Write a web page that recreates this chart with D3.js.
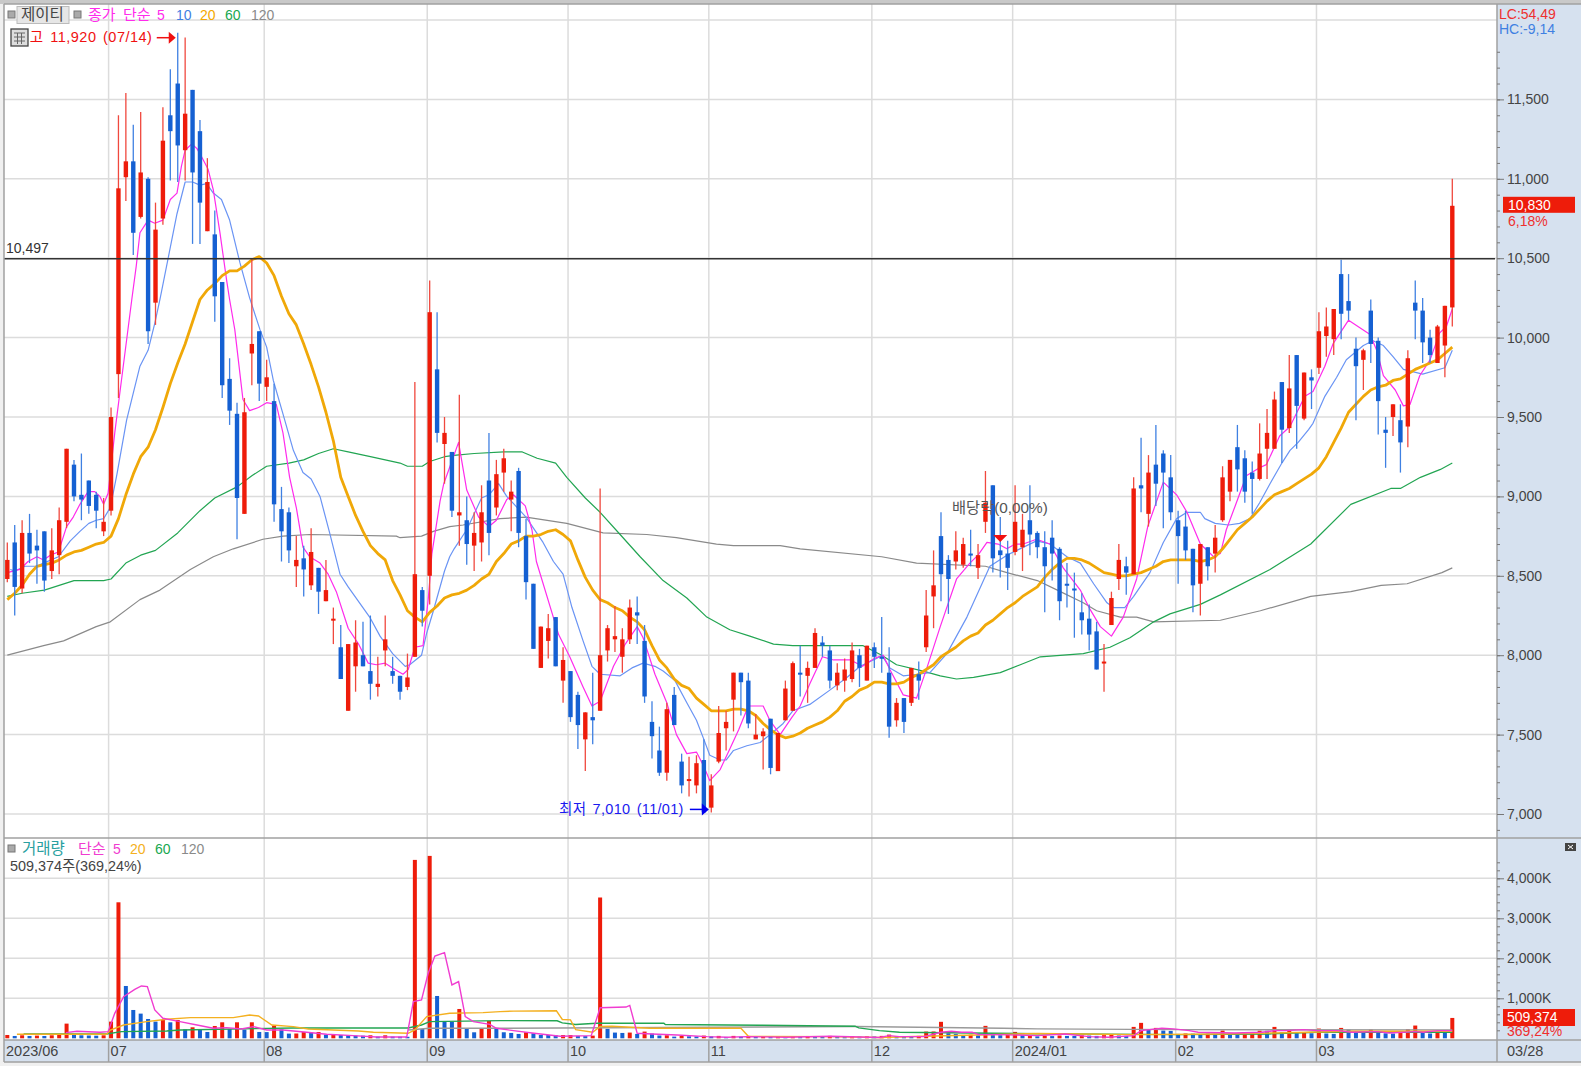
<!DOCTYPE html>
<html>
<head>
<meta charset="utf-8">
<script src="https://cdnjs.cloudflare.com/ajax/libs/d3/7.8.5/d3.min.js"></script>
<style>
  html, body { margin: 0; padding: 0; background: #f0f0f0; overflow: hidden; }
  text { font-family: "Liberation Sans", "Noto Sans CJK KR", sans-serif; }
</style>
</head>
<body>
<div id="graph"></div>
<script>
// daily candles, 2023/06 - 2024/03/28
var open = [
  8480,8710,8420,8770,8690,8780,8530,8630,8840,9200,
  9010,9100,9010,8780,8910,9770,11010,11110,10760,11000,
  10220,10750,11400,11600,11180,11560,11300,10670,10650,10350,
  9740,9520,8890,9900,10040,9690,9600,8920,8900,8560,
  8610,8440,8550,8340,8220,8050,7650,7930,8000,7900,
  7800,8030,7900,7870,7800,7990,8410,8500,9800,9330,
  9280,8880,8850,8690,8710,9100,8930,9150,8980,9160,
  8750,8450,7920,8090,8240,7840,7900,7750,7470,7610,
  7650,8030,8100,7990,8100,8270,8090,7580,7400,7260,
  7750,7330,7210,7180,7340,7040,7330,7540,7720,7890,
  7840,7470,7490,7600,7270,7590,7650,7890,7870,7920,
  8080,8030,7810,7840,7850,8000,7840,8050,7990,7890,
  7590,7730,7700,7880,8050,8370,8750,8600,8590,8570,
  8640,8550,8840,9070,8660,8640,8650,8680,8850,8770,
  8680,8740,8670,8450,8420,8270,8230,8150,7950,8190,
  8480,8560,8510,9070,8890,9200,9270,9120,8850,8810,
  8670,8450,8680,8640,8850,9030,9310,9240,9150,9110,
  9300,9300,9720,9430,9890,9490,9750,9810,10010,9990,
  10400,10230,9930,9860,10170,9980,9420,9500,9480,9440,
  10220,10170,10000,9840,9950,10190];
var close = [
  8600,8430,8770,8640,8660,8470,8660,8850,9300,9000,
  8980,8940,8910,8840,9500,10940,11110,10660,11040,10040,
  10680,11240,11300,11210,11410,11040,10850,10980,10260,9700,
  9540,8990,9530,9960,9710,9750,8950,8780,8660,8600,
  8540,8650,8400,8410,8230,7850,8070,8080,7930,7820,
  7820,8100,7870,7770,7860,8510,8280,10160,9400,9400,
  8910,8900,8700,8770,8900,8770,9140,9240,9030,8770,
  8460,8040,8180,8170,7930,7970,7610,7560,7640,7590,
  8000,8170,8120,8100,8300,8250,7740,7490,7260,7660,
  7560,7180,7220,7320,7010,7180,7510,7580,7890,7830,
  7570,7500,7520,7290,7510,7790,7950,7880,7920,8140,
  8060,7840,7890,7910,8030,7920,8060,7990,7980,7550,
  7700,7580,7920,7840,8250,8440,8510,8480,8660,8700,
  8630,8630,8960,8610,8630,8550,8840,8790,8760,8680,
  8560,8640,8340,8440,8410,8220,8130,7910,7960,8360,
  8600,8520,9050,9050,9150,9080,9150,8900,8750,8660,
  8440,8700,8560,8740,9120,9230,9170,9030,9110,9270,
  9400,9610,9420,9680,9570,9780,9730,10040,10070,10180,
  10150,10170,9820,9920,9960,9600,9400,9580,9340,9870,
  10170,9970,9890,10070,10200,10830];
var high = [
  8710,8820,8850,8890,8790,8780,8800,8930,9300,9230,
  9270,9100,9030,8990,9560,11400,11540,11340,11420,11010,
  10850,11450,11690,11920,11890,11560,11370,11130,10800,10350,
  9870,9590,9620,10500,10040,9860,9710,9060,8930,8750,
  8690,8800,8550,8600,8300,8190,8070,8220,8210,8250,
  7990,8250,7990,7870,8010,9720,8430,10360,10160,9500,
  9280,9640,9000,8900,9070,9400,9230,9300,9100,9180,
  8860,8450,8180,8260,8240,8050,7900,7770,7640,7890,
  9050,8190,8310,8170,8350,8370,8190,7710,7550,7700,
  7800,7380,7360,7370,7470,7250,7680,7650,7890,7890,
  7890,7630,7540,7600,7510,7840,7960,8060,7960,8170,
  8120,8060,7950,7980,8080,8040,8060,8080,8240,8050,
  7730,7730,7920,7960,8410,8660,8900,8630,8780,8740,
  8790,8700,9160,9070,8870,8720,9070,8890,9070,8780,
  8780,8850,8680,8580,8520,8390,8320,8210,8070,8400,
  8700,8620,9120,9370,9260,9450,9290,9260,8910,8910,
  8670,8700,8680,8820,9190,9230,9450,9290,9220,9460,
  9550,9660,9720,9890,9890,9780,9800,10160,10190,10180,
  10490,10400,10000,9930,10240,10000,9500,9580,9580,9920,
  10360,10250,10050,10080,10200,11000];
var low = [
  8460,8250,8390,8580,8450,8400,8480,8510,8800,8970,
  8850,8890,8800,8750,8880,9620,10860,10520,10750,9960,
  10080,10710,10990,10980,10990,10590,10590,10670,10100,9620,
  9450,8730,8890,9700,9600,9600,8840,8590,8580,8430,
  8370,8410,8260,8340,8070,7850,7650,7770,7930,7720,
  7740,7930,7820,7720,7780,7990,8180,8320,9340,9080,
  8870,8690,8570,8530,8590,8630,8880,9030,8780,8680,
  8350,8040,7920,7980,7930,7700,7580,7410,7270,7440,
  7650,7960,8020,7890,8070,8070,7700,7350,7240,7210,
  7560,7130,7110,7130,7010,7010,7320,7400,7520,7620,
  7540,7470,7280,7250,7270,7590,7650,7740,7700,7920,
  7990,7790,7780,7770,7830,7800,7840,7920,7890,7480,
  7550,7510,7680,7720,8020,8170,8340,8260,8540,8550,
  8560,8480,8770,8520,8490,8410,8630,8530,8630,8610,
  8270,8470,8220,8300,8110,8130,8030,7910,7770,8190,
  8410,8380,8510,8900,8810,8940,8800,8850,8450,8600,
  8270,8250,8470,8520,8840,8970,9030,8960,8890,9100,
  9110,9300,9210,9400,9300,9480,9550,9770,9880,9890,
  9990,10110,9480,9670,9840,9390,9180,9380,9150,9310,
  9990,9840,9840,9840,9750,10070];

// moving averages (position in candle units, then value)
var ma5Pos = [0,1.7,2.8,4,4.9,5.8,6.9,8,8.9,9.8,10.9,11.8,12.5,13,13.6,14.5,15.4,16.8,17.4,17.9,19,19.9,21,22,22.9,23.5,24,24.9,25.6,26.2,27.1,27.8,28.7,29.6,30,30.7,31.8,32.7,33.9,35,36.3,37.2,38.1,39,39.9,40.8,42.2,43.3,44.4,46,47.4,48.7,49.8,51,52.3,53.4,54.1,55,56.1,56.8,57.3,58.4,58.9,60.9,62,63.6,65,66,67.4,68.3,69.9,70.8,71.4,74.4,75.9,77.7,78.9,80,81.8,83.4,85,85.8,87.4,89,90.3,91.7,93,94,94.8,96.2,97.5,98.7,100,102,102.9,104.3,105.9,107,108.3,110,111.5,113.8,115.4,117,118.2,119.1,120.9,122.7,124.1,125.9,128.1,129.9,131,132.2,133.7,134.9,136,137.1,138.9,140.7,142.5,144.8,146.1,147.5,149,150.6,152.4,153.9,156,157.8,159.2,161,162.8,163.7,164.5,165.7,167.2,169,169.9,171.7,173.1,175.1,176.2,177.8,178.9,181,183.9,184.8,185.7,187.3,188.4,189.3,190.6,192,193.3,194.2,195];
var ma5 = [8520,8540,8590,8620,8600,8630,8650,8810,8870,8950,9030,9030,9000,8950,9020,9400,9730,10240,10450,10660,10740,10720,10740,10870,10910,11080,11180,11220,11190,11140,11060,10930,10660,10360,10240,10050,9610,9540,9560,9590,9580,9400,9120,8930,8680,8620,8580,8510,8400,8170,8070,7950,7940,7950,7910,7880,7910,8050,8060,8350,8640,8970,9080,9340,9040,8870,8810,8850,8980,9010,8940,8790,8590,8130,7990,7800,7680,7710,7930,8070,8180,8110,7880,7700,7500,7380,7390,7300,7210,7280,7410,7530,7680,7680,7590,7500,7610,7680,7820,7990,7970,7970,7930,7980,8000,7910,7750,7730,7920,8180,8480,8580,8630,8710,8700,8670,8700,8700,8730,8700,8550,8410,8290,8180,8120,8240,8480,8810,9090,9010,8900,8700,8620,8640,8790,8940,9130,9180,9200,9380,9440,9630,9660,9820,9960,10110,10020,9920,9760,9670,9570,9580,9760,9860,10030,10070,10180];
var ma10Pos = [0.4,1,2.4,3.9,4.9,6.9,8.5,9.8,11,12,13,13.9,14.8,16.1,17.9,19,19.9,20.6,22.9,24,25,26,26.9,27.8,28.9,30,31.4,32.7,34.1,35,35.9,37.2,38.6,39.9,41,42.2,43.5,44.9,46,48.9,50.3,52,53.7,54.3,55.9,56.6,57.5,59,59.7,60.3,62,64,65,66.3,67.4,69,70,72.3,73.7,75,76.2,77.7,78.9,80,82.7,84.3,85.8,87.4,88.5,90.1,91.7,93,94,94.8,96.2,97,98,99.8,101.6,103.2,104.7,106,108.3,111,113.3,115.1,117.3,118,119.1,120.9,122.9,124.5,126.8,129.5,132.6,134.9,138.9,140.7,143,144.8,146.6,148.4,149.3,150.8,152,154.2,156,157.8,159.2,161,161.6,163,164.8,166.3,167.7,169,170.4,172,173.1,174.2,175.6,176.2,177.8,179.4,180.7,183,184.3,185.7,187,188.4,191,194,195];
var ma10 = [8540,8530,8560,8560,8580,8620,8720,8780,8830,8850,8860,8930,9140,9480,9820,9920,10090,10240,10780,10980,10980,10960,10970,10910,10870,10740,10470,10250,10050,9940,9730,9520,9290,9150,9110,9000,8770,8510,8430,8240,8120,8010,7930,7940,8000,8140,8280,8530,8620,8670,8790,8990,9010,9080,9000,8920,8870,8710,8590,8510,8300,8090,7930,7880,7870,7920,7950,7930,7900,7840,7700,7590,7470,7370,7340,7340,7400,7430,7450,7510,7570,7650,7690,7780,7860,7930,7980,8000,7920,7870,7880,7890,8010,8240,8560,8630,8720,8700,8620,8580,8450,8330,8300,8300,8370,8520,8710,8860,8900,8900,8860,8830,8820,8830,8860,8960,9080,9210,9290,9340,9420,9460,9630,9750,9860,9950,9980,9950,9880,9800,9770,9810,9920];
var ma20 = [
  8350,8390,8440,8510,8560,8570,8580,8600,8630,8650,
  8660,8680,8700,8710,8750,8860,9010,9140,9250,9310,
  9420,9560,9710,9840,9960,10100,10240,10300,10340,10390,
  10420,10420,10450,10490,10510,10470,10390,10260,10150,10080,
  9960,9830,9690,9530,9350,9120,9000,8880,8780,8690,
  8640,8600,8470,8380,8280,8240,8210,8270,8310,8360,
  8380,8390,8410,8440,8480,8510,8590,8640,8700,8720,
  8750,8750,8760,8780,8790,8760,8720,8600,8490,8410,
  8350,8330,8300,8280,8240,8210,8160,8060,7970,7920,
  7850,7810,7790,7730,7690,7650,7650,7650,7660,7660,
  7650,7620,7570,7530,7500,7480,7490,7510,7540,7560,
  7580,7610,7650,7710,7740,7780,7800,7830,7830,7820,
  7820,7830,7860,7880,7910,7940,7990,8020,8050,8090,
  8120,8140,8190,8220,8260,8300,8330,8370,8400,8430,
  8490,8540,8580,8610,8610,8600,8580,8550,8520,8510,
  8500,8500,8510,8520,8540,8560,8590,8600,8600,8600,
  8600,8590,8600,8620,8670,8730,8790,8830,8870,8920,
  8970,9010,9030,9050,9080,9110,9140,9180,9250,9340,
  9430,9530,9580,9630,9670,9690,9700,9730,9740,9770,
  9800,9820,9840,9860,9900,9940];
var ma60Pos = [0,2,5,7,9,13,14,16,18,20,23,26,28,31,33,35,38,40,42,44,46,49,53,54,56,57,59,60.6,63,67,69.5,71.5,74,75.5,78,80,82.7,85.4,88.5,91.7,94.4,97.5,100.2,103.4,106,112.4,115.5,118,120,123.6,125.9,128.1,130.4,134,136.7,139.4,145.2,148.8,151.5,154.7,156.9,161,163.7,170.4,175.9,181.3,186.7,188,190.7,193.4,195];
var ma60 = [8370,8390,8410,8440,8470,8470,8480,8580,8630,8660,8770,8910,8990,9060,9130,9190,9210,9230,9270,9300,9280,9250,9210,9190,9190,9220,9250,9260,9270,9280,9280,9240,9210,9120,8990,8900,8760,8620,8470,8360,8240,8160,8120,8070,8060,8060,8060,8000,7940,7900,7870,7850,7860,7890,7940,7990,8010,8050,8110,8210,8260,8320,8380,8540,8700,8950,9050,9050,9120,9170,9210];
var ma120Pos = [0,4.9,7.6,12,13.9,17.9,20.6,24.7,27.8,30.5,34.5,37.2,40.8,52.5,53,55.9,57.5,59.7,61.5,66.5,70,75.5,80.4,86.3,90.3,95.7,98,104.3,107,118,122.7,132,134.9,139,141.7,145.2,147,150.2,152.4,154.7,163.7,169.1,175.9,181.3,185.4,188.9,193.6,195];
var ma120 = [8000,8060,8090,8180,8210,8350,8410,8540,8620,8670,8730,8750,8760,8750,8740,8750,8780,8810,8820,8860,8870,8830,8770,8760,8740,8700,8690,8690,8670,8620,8580,8560,8520,8470,8410,8330,8280,8240,8240,8210,8220,8280,8370,8400,8440,8450,8520,8550];

// volume in thousands of shares
var volume = [
  83,58,75,58,67,58,75,83,367,83,
  75,70,65,75,417,3400,1308,708,617,483,
  417,458,400,458,225,275,225,158,308,400,
  233,400,217,400,158,155,317,225,117,120,
  158,142,158,92,95,83,80,67,65,75,
  42,75,42,40,38,4460,233,4560,1058,417,
  410,733,250,150,250,433,250,151,134,109,
  151,126,84,82,80,82,82,60,55,67,
  3520,235,143,134,143,109,168,118,70,76,
  42,60,50,48,67,50,60,34,60,42,
  60,42,55,50,55,45,52,45,58,50,
  48,60,48,40,52,44,50,46,60,92,
  50,46,44,60,168,170,412,126,109,84,
  90,75,311,80,78,85,160,78,80,50,
  65,55,70,60,58,75,68,60,78,85,
  70,60,285,386,210,260,193,185,110,120,
  115,105,115,100,193,95,90,100,110,190,
  188,285,150,190,130,140,125,243,120,110,
  260,218,160,140,218,150,125,118,135,226,
  319,145,120,140,138,509];
var volMa5Pos = [7.9,9.4,12.5,13.6,14.5,15.7,17.2,18.1,18.9,19.9,21,23.3,25.6,27.8,29.6,31.6,33.2,35,37.2,40.4,43.1,46.7,49.8,53.9,54.8,55.9,56.8,57.7,59,60,60.9,61.8,62.9,65.1,66,68.3,71.1,74.6,78.8,80,83.5,84,85,87,90.4,94.4,97.2,99.7,105.1,111.1,117.7,119,120.4,123.7,126,127.4,128.8,130.2,131.1,133.9,139,142.8,146,148.6,152,153,155.8,157.4,159.5,160.7,165.6,169.3,171.1,172.5,174.9,176.7,179.5,181.4,184.9,186.5,190,191.1,193,195];
var volMa5 = [142,175,150,167,625,1040,1225,1308,1291,708,500,417,333,250,267,233,292,208,208,150,100,67,33,33,917,958,1625,2058,2142,1333,1417,542,417,350,250,193,126,50,67,764,781,823,126,109,84,42,25,42,25,50,20,67,42,42,151,176,151,151,92,92,67,109,42,25,67,193,252,235,193,151,134,151,193,193,218,193,193,151,168,134,168,151,193,193];
var volMa20Pos = [1.3,13.4,13.9,15.7,18.8,21.5,24.7,30.5,32.7,33.9,35.7,38.6,40.6,47.4,49.4,54.1,55,56.6,59.7,64.2,66.5,68.3,74.1,74.9,76,76.7,79,80,81.6,86.7,99,100,111.1,117.7,123.7,139,144.6,152,164.2,171.1,181.4,195];
var volMa20 = [100,100,208,333,417,475,517,517,583,558,333,292,233,183,150,125,208,542,625,642,667,680,689,470,462,218,151,294,302,252,252,50,42,20,50,120,109,92,109,134,176,176];
var volMa60Pos = [2.2,13.4,15.4,21.5,23.3,38.6,54.1,55.9,57,66.5,74.2,74.9,76.7,79.5,88.6,88.8,101.6,114.4,114.9,117.7,120.4,139,158.1,170.2,176.7,195];
var volMa60 = [108,108,167,183,208,258,258,333,417,442,437,386,344,378,378,344,328,302,260,193,151,115,92,109,151,151];
var volMa120Pos = [54.1,57,66.5,114.4,134.4,139,158.1,195];
var volMa120 = [208,250,250,294,252,235,218,210];

// ticks and labels
var priceGrid = [7000,7500,8000,8500,9000,9500,10000,10500,11000,11500,12000];
var priceTicks = [7000,7500,8000,8500,9000,9500,10000,10500,11000,11500];
var volTicks = [1000,2000,3000,4000];
var monthStart = [14,35,57,76,95,117,136,158,177];
var monthLabels = ["07","08","09","10","11","12","2024/01","02","03"];
var firstDate = "2023/06";
var lastDate = "03/28";
var prevHigh = 10497;
var maxPrice = 11920, maxIndex = 23;
var minPrice = 7010, minIndex = 94;
var exDivIndex = 134;
var lastPrice = 10830, lastVol = 509.374;

var width = 1581, height = 1066;
var plotLeft = 4, plotRight = 1497;
var priceBottom = 838, volBottom = 1040, dateBottom = 1062;

var COL_UP = '#ee1c0a', COL_DOWN = '#1560d2';
var WICK_UP = '#f0483e', WICK_DOWN = '#3f80e2';
var AXIS_BG = '#d6e1ef', TEXT = '#444';

var svg = d3.select('#graph').append('svg')
  .attr('width', width).attr('height', height)
  .style('display', 'block');

var xs = d3.scaleLinear().domain([0, 195]).range([7.3, 1452.3]);
var yPrice = d3.scaleLinear().domain([7000, 12000]).range([814, 20]);
var yVol = d3.scaleLinear().domain([0, 4000]).range([1038.3, 878.3]);

// background
svg.append('rect').attr('width', width).attr('height', height).attr('fill', '#f0f0f0');
svg.append('rect').attr('width', width).attr('height', 4).attr('fill', '#c9c9c9');
svg.append('rect').attr('x', plotLeft).attr('y', 4).attr('width', plotRight - plotLeft).attr('height', volBottom - 4).attr('fill', '#fff');
svg.append('rect').attr('x', plotRight).attr('y', 4).attr('width', width - plotRight).attr('height', dateBottom - 4).attr('fill', AXIS_BG);
svg.append('rect').attr('x', plotLeft).attr('y', volBottom).attr('width', width - plotLeft).attr('height', dateBottom - volBottom).attr('fill', AXIS_BG);

// grid
var grid = svg.append('g').attr('stroke', '#dcdcdc').attr('stroke-width', 1.5);
grid.selectAll('.hp').data(priceGrid).enter().append('line')
  .attr('x1', plotLeft).attr('x2', plotRight)
  .attr('y1', function(d) { return yPrice(d); }).attr('y2', function(d) { return yPrice(d); });
grid.selectAll('.hv').data(volTicks).enter().append('line')
  .attr('x1', plotLeft).attr('x2', plotRight)
  .attr('y1', function(d) { return yVol(d); }).attr('y2', function(d) { return yVol(d); });
grid.selectAll('.vm').data(monthStart).enter().append('line')
  .attr('x1', function(d) { return xs(d - 0.33); }).attr('x2', function(d) { return xs(d - 0.33); })
  .attr('y1', 4).attr('y2', volBottom);

// moving average lines of the price panel
var lineAt = function(xv, yv, yScale) {
  return d3.line()
    .x(function(d) { return xs(d); })
    .y(function(d, i) { return yScale(yv[i]); })(xv);
};
var maLines = [
  [ma120Pos, ma120, '#8a8a8a', 1.2],
  [ma60Pos, ma60, '#22a552', 1.2],
  [ma10Pos, ma10, '#6a94f4', 1.2],
  [ma5Pos, ma5, '#ff2bec', 1.2],
  [d3.range(ma20.length), ma20, '#f0a808', 2.8]
];
svg.append('g').selectAll('path').data(maLines).enter().append('path')
  .attr('d', function(d) { return lineAt(d[0], d[1], yPrice); })
  .attr('fill', 'none')
  .attr('stroke', function(d) { return d[2]; })
  .attr('stroke-width', function(d) { return d[3]; })
  .attr('stroke-linejoin', 'round');

// candles
var idx = d3.range(open.length);
var candles = svg.append('g');
candles.selectAll('line').data(idx).enter().append('line')
  .attr('x1', function(i) { return xs(i); }).attr('x2', function(i) { return xs(i); })
  .attr('y1', function(i) { return yPrice(high[i]); }).attr('y2', function(i) { return yPrice(low[i]); })
  .attr('stroke', function(i) { return close[i] >= open[i] ? WICK_UP : WICK_DOWN; })
  .attr('stroke-width', 1.3);
candles.selectAll('rect').data(idx).enter().append('rect')
  .attr('x', function(i) { return xs(i) - 2.2; })
  .attr('width', 4.4)
  .attr('y', function(i) { return yPrice(Math.max(open[i], close[i])); })
  .attr('height', function(i) { return Math.max(2, Math.abs(yPrice(open[i]) - yPrice(close[i]))); })
  .attr('fill', function(i) { return close[i] >= open[i] ? COL_UP : COL_DOWN; });

// previous high line
svg.append('line')
  .attr('x1', plotLeft).attr('x2', plotRight - 2)
  .attr('y1', yPrice(prevHigh)).attr('y2', yPrice(prevHigh))
  .attr('stroke', '#333').attr('stroke-width', 1.4);
svg.append('text').attr('x', 6).attr('y', yPrice(prevHigh) - 6)
  .attr('font-size', 14).attr('fill', '#333').text(d3.format(',')(prevHigh));

// volume bars
svg.append('g').selectAll('rect').data(idx).enter().append('rect')
  .attr('x', function(i) { return xs(i) - 2; })
  .attr('width', 4)
  .attr('y', function(i) { return yVol(volume[i]); })
  .attr('height', function(i) { return yVol(0) - yVol(volume[i]); })
  .attr('fill', function(i) { return i == 0 || volume[i] >= volume[i - 1] ? COL_UP : COL_DOWN; });

var volLines = [
  [volMa120Pos, volMa120, '#9a9a9a'],
  [volMa60Pos, volMa60, '#22a552'],
  [volMa20Pos, volMa20, '#f4b020'],
  [volMa5Pos, volMa5, '#f03cd0']
];
svg.append('g').selectAll('path').data(volLines).enter().append('path')
  .attr('d', function(d) { return lineAt(d[0], d[1], yVol); })
  .attr('fill', 'none')
  .attr('stroke', function(d) { return d[2]; })
  .attr('stroke-width', 1.4);

// frame lines
var frame = svg.append('g').attr('stroke', '#a0a0a0').attr('stroke-width', 1.5);
frame.append('line').attr('x1', plotLeft).attr('x2', plotLeft).attr('y1', 4).attr('y2', dateBottom);
frame.append('line').attr('x1', plotRight).attr('x2', plotRight).attr('y1', 4).attr('y2', dateBottom);
frame.append('line').attr('x1', plotLeft).attr('x2', width).attr('y1', 4).attr('y2', 4);
frame.append('line').attr('x1', plotLeft).attr('x2', width).attr('y1', priceBottom).attr('y2', priceBottom);
frame.append('line').attr('x1', plotLeft).attr('x2', width).attr('y1', volBottom).attr('y2', volBottom);
frame.append('line').attr('x1', plotLeft).attr('x2', width).attr('y1', dateBottom).attr('y2', dateBottom);
frame.selectAll('.sep').data(monthStart).enter().append('line')
  .attr('x1', function(d) { return xs(d - 0.33); }).attr('x2', function(d) { return xs(d - 0.33); })
  .attr('y1', volBottom).attr('y2', dateBottom);

// axes
var styleAxis = function(g) {
  g.select('.domain').remove();
  g.selectAll('.tick line').attr('stroke', '#777');
  g.selectAll('.tick text').attr('font-size', 14).attr('fill', TEXT)
    .attr('font-family', '"Liberation Sans","Noto Sans CJK KR",sans-serif').attr('x', 10);
};
svg.append('g').attr('transform', 'translate(' + plotRight + ',0)')
  .call(d3.axisRight(yPrice).tickValues(d3.range(6900, 11900, 100)).tickSize(3).tickFormat(''))
  .call(styleAxis);
svg.append('g').attr('transform', 'translate(' + plotRight + ',0)')
  .call(d3.axisRight(yPrice).tickValues(priceTicks).tickSize(7).tickFormat(d3.format(',')))
  .call(styleAxis);
svg.append('g').attr('transform', 'translate(' + plotRight + ',0)')
  .call(d3.axisRight(yVol).tickValues(d3.range(200, 4600, 200)).tickSize(3).tickFormat(''))
  .call(styleAxis);
svg.append('g').attr('transform', 'translate(' + plotRight + ',0)')
  .call(d3.axisRight(yVol).tickValues(volTicks).tickSize(7).tickFormat(function(d) { return d3.format(',')(d) + 'K'; }))
  .call(styleAxis);

// date strip
var dateY = 1056;
svg.append('text').attr('x', 6).attr('y', dateY).attr('font-size', 14.5).attr('fill', TEXT).text(firstDate);
svg.selectAll('.month').data(monthStart).enter().append('text')
  .attr('x', function(d) { return xs(d - 0.33) + 2; }).attr('y', dateY)
  .attr('font-size', 14.5).attr('fill', TEXT)
  .text(function(d, i) { return monthLabels[i]; });
svg.append('text').attr('x', 1507).attr('y', dateY).attr('font-size', 14.5).attr('fill', TEXT).text(lastDate);

// legend helper
var label = function(x, y, str, col, size) {
  return svg.append('text').attr('x', x).attr('y', y)
    .attr('font-size', size || 14).attr('fill', col).text(str);
};
var chip = function(x, y) {
  svg.append('rect').attr('x', x).attr('y', y).attr('width', 7).attr('height', 7)
    .attr('fill', '#aaa').attr('stroke', '#777').attr('stroke-width', 1);
};

// top legend
chip(8, 11);
svg.append('rect').attr('x', 17).attr('y', 6.5).attr('width', 52).attr('height', 17)
  .attr('fill', '#e6e6e6').attr('stroke', '#bbb');
label(21, 20, '제이티', '#444', 15.5);
chip(74, 11);
label(88, 20, '종가', '#ff2bec', 15);
label(123, 20, '단순', '#ff2bec', 15);
label(157, 20, '5', '#ff2bec');
label(176, 20, '10', '#3f80e2');
label(200, 20, '20', '#f4a800');
label(225, 20, '60', '#18a850');
label(251, 20, '120', '#8a8a8a');

// high label, the table icon sits on top of it
label(16, 42, '최고 11,920 (07/14)', '#f01010', 14.5)
  .attr('letter-spacing', 0.5).attr('word-spacing', 2);
svg.append('rect').attr('x', 11).attr('y', 29).attr('width', 17).attr('height', 17)
  .attr('fill', '#ddd').attr('stroke', '#444').attr('stroke-width', 1.3);
svg.append('path').attr('d', 'M14,33H25M14,37H25M14,41H25M17.5,33V44M21.5,33V44')
  .attr('stroke', '#666').attr('fill', 'none');

// arrows
var arrow = function(tipX, tipY, len, col) {
  svg.append('line').attr('x1', tipX - len).attr('x2', tipX - 6).attr('y1', tipY).attr('y2', tipY)
    .attr('stroke', col).attr('stroke-width', 1.5);
  svg.append('path').attr('d', 'M' + tipX + ',' + tipY + 'L' + (tipX - 7) + ',' + (tipY - 6) + 'V' + (tipY + 6) + 'Z')
    .attr('fill', col);
};
arrow(xs(maxIndex) - 2, yPrice(maxPrice) + 5, 19, '#f01010');
label(559, 814, '최저 7,010 (11/01)', '#1a1af0', 14.5)
  .attr('letter-spacing', 0.3).attr('word-spacing', 2);
arrow(xs(minIndex) + 5, yPrice(minPrice) - 3, 19, '#0000f0');

// ex-dividend mark
label(952, 513, '배당락(0,00%)', '#555', 15.3);
svg.append('path')
  .attr('d', 'M' + (xs(exDivIndex) - 7) + ',535h14l-7,7Z')
  .attr('fill', '#f01010');

// top right
label(1499, 19, 'LC:54,49', '#ee3030', 14);
label(1499, 34, 'HC:-9,14', '#3f80e2', 14);

// last price tag
svg.append('rect').attr('x', 1503).attr('y', yPrice(lastPrice) - 9).attr('width', 72).attr('height', 16).attr('fill', COL_UP);
label(1508, yPrice(lastPrice) + 4, d3.format(',')(lastPrice), '#fff');
label(1508, yPrice(lastPrice) + 20, '6,18%', '#ee3030');

// volume legend
chip(8, 845);
label(22, 854, '거래량', '#2aa0a0', 15.5);
label(78, 854, '단순', '#f03cd0', 15);
label(113, 854, '5', '#f03cd0');
label(130, 854, '20', '#f4b020');
label(155, 854, '60', '#18a850');
label(181, 854, '120', '#8a8a8a');
label(10, 871, '509,374주(369,24%)', '#444', 14.4);

// close box of the volume panel
svg.append('rect').attr('x', 1565).attr('y', 843).attr('width', 11).attr('height', 8).attr('fill', '#444');
svg.append('path').attr('d', 'M1568,845l5,4M1573,845l-5,4').attr('stroke', '#fff');

// last volume tag
svg.append('rect').attr('x', 1503).attr('y', 1009).attr('width', 72).attr('height', 17).attr('fill', COL_UP);
label(1507, 1022, '509,374', '#fff');
label(1507, 1036, '369,24%', '#ee3030');
</script>
</body>
</html>
